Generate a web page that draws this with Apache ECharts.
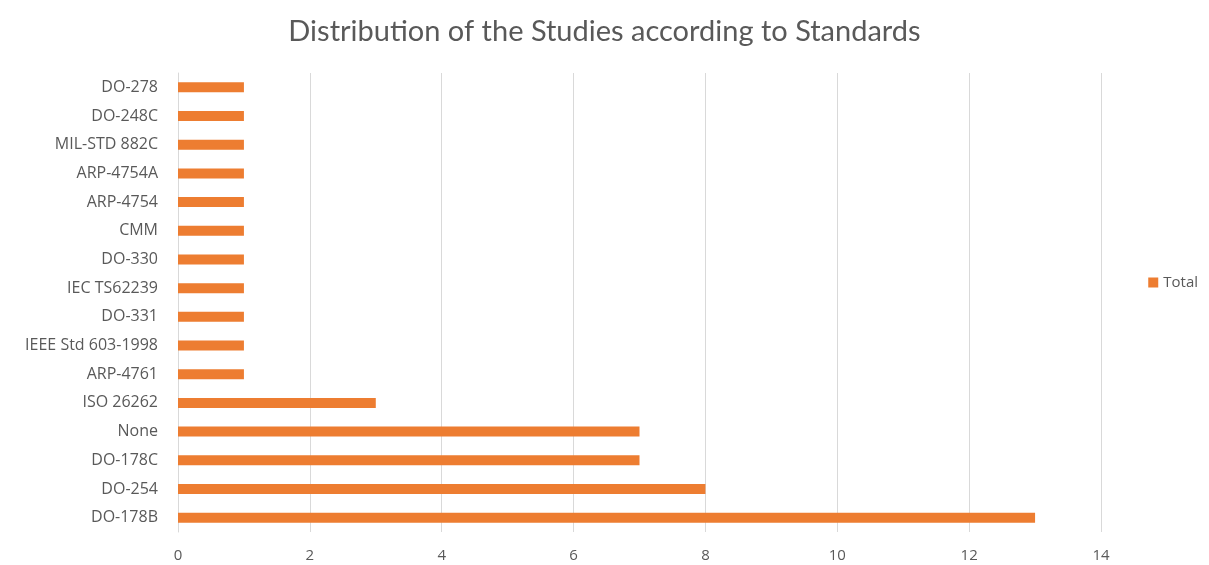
<!DOCTYPE html>
<html>
<head>
<meta charset="utf-8">
<script src="https://cdn.jsdelivr.net/npm/echarts@6/dist/echarts.min.js"></script>
<style>
  html, body { margin: 0; padding: 0; background: #ffffff; }
  #chart { width: 1209px; height: 565px; }
</style>
</head>
<body>
<div id="chart"></div>
<script>
// Standards, listed bottom to top
const categories = [
  'DO-178B', 'DO-254', 'DO-178C', 'None', 'ISO 26262', 'ARP-4761',
  'IEEE Std 603-1998', 'DO-331', 'IEC TS62239', 'DO-330', 'CMM',
  'ARP-4754', 'ARP-4754A', 'MIL-STD 882C', 'DO-248C', 'DO-278'
];
// Number of studies per standard
const totals = [13, 8, 7, 7, 3, 1, 1, 1, 1, 1, 1, 1, 1, 1, 1, 1];
const seriesName = 'Total';
const titleText = 'Distribution of the Studies according to Standards';

const titleFont = 'Lato, "Open Sans", sans-serif';
const font = '"Open Sans", Lato, sans-serif';
const chart = echarts.init(document.getElementById('chart'), null, { renderer: 'canvas' });

chart.setOption({
  animation: false,
  backgroundColor: '#ffffff',
  title: {
    text: titleText,
    left: 'center',
    top: 12,
    textStyle: { fontFamily: titleFont, fontSize: 29, fontWeight: 'normal', color: '#595959' }
  },
  legend: {
    data: [seriesName],
    right: 6,
    top: 'middle',
    orient: 'vertical',
    icon: 'rect',
    itemWidth: 10,
    itemHeight: 10,
    itemGap: 4,
    textStyle: { fontFamily: font, fontSize: 15, color: '#595959' }
  },
  grid: { left: 178, right: 108, top: 73, bottom: 33 },
  xAxis: {
    type: 'value',
    min: 0,
    max: 14,
    interval: 2,
    axisLine: { show: false },
    axisTick: { show: false },
    axisLabel: { margin: 16, fontFamily: font, fontSize: 15, color: '#595959' },
    splitLine: { lineStyle: { color: '#d9d9d9', width: 1 } }
  },
  yAxis: {
    type: 'category',
    data: categories,
    axisLine: { show: true, lineStyle: { color: '#d9d9d9' } },
    axisTick: { show: false },
    axisLabel: { margin: 20, fontFamily: font, fontSize: 16, color: '#595959' }
  },
  series: [{
    name: seriesName,
    type: 'bar',
    data: totals,
    barWidth: 10,
    itemStyle: { color: '#ed7d31' }
  }]
});
</script>
</body>
</html>
